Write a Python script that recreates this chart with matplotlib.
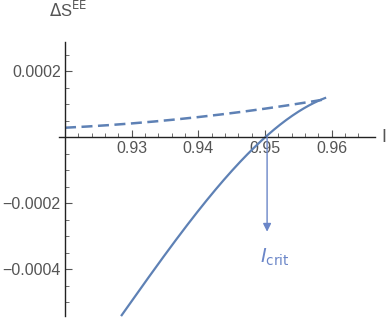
import matplotlib.pyplot as plt
import numpy as np
from matplotlib.ticker import FixedLocator, FuncFormatter

plt.rcParams['font.family'] = ['Liberation Sans', 'DejaVu Sans']

# values
dash_x = [0.92, 0.93, 0.94, 0.95, 0.959]
dash_y = [0.28e-4, 0.41e-4, 0.62e-4, 0.84e-4, 1.15e-4]

solid_x = [0.9285, 0.9342, 0.9402, 0.9452, 0.9503, 0.9542, 0.959]
solid_y = [-5.42e-4, -3.73e-4, -2.21e-4, -1.0e-4, 0.0, 0.75e-4, 1.15e-4]

i_crit = 0.9503
arrow_end = -2.87e-4

xticks = [0.93, 0.94, 0.95, 0.96]
yticks = [-0.0004, -0.0002, 0.0002]

blue = '#5e81b5'
arrow_blue = '#6b86c8'
txt = '#555555'

fig = plt.figure(figsize=(3.88, 3.19), dpi=100)
ax = fig.add_axes([0, 0, 1, 1])
ax.set_xlim(0.91025, 0.96843)
ax.set_ylim(-5.515e-4, 4.152e-4)

# smooth the read points a little with a polynomial through them
xs = np.linspace(dash_x[0], dash_x[-1], 200)
ax.plot(xs, np.polyval(np.polyfit(dash_x, dash_y, 2), xs), color=blue, lw=1.8,
        dashes=(4.4, 2.2))
xs2 = np.linspace(solid_x[0], solid_x[-1], 200)
ax.plot(xs2, np.polyval(np.polyfit(solid_x, solid_y, 3), xs2), color=blue, lw=1.6)

ax.annotate('', xy=(i_crit, arrow_end), xytext=(i_crit, 0),
            arrowprops=dict(arrowstyle='-|>', color=arrow_blue, lw=1.0,
                            mutation_scale=12, shrinkA=0, shrinkB=0))
ax.text(i_crit + 0.0012, arrow_end - 0.45e-4, r'$\mathit{I}_{\mathrm{crit}}$',
        color=arrow_blue, fontsize=14, ha='center', va='top',
        fontfamily='DejaVu Sans')

for s in ['top', 'right']:
    ax.spines[s].set_visible(False)
ax.spines['left'].set_position(('data', 0.92))
ax.spines['bottom'].set_position(('data', 0))
ax.spines['left'].set_bounds(-5.42e-4, 2.88e-4)
ax.spines['bottom'].set_bounds(0.9191, 0.9665)
for s in ['left', 'bottom']:
    ax.spines[s].set_color('#222222')
    ax.spines[s].set_linewidth(1.0)

ax.xaxis.set_major_locator(FixedLocator(xticks))
ax.yaxis.set_major_locator(FixedLocator(yticks))
ax.xaxis.set_minor_locator(FixedLocator(np.arange(0.922, 0.966, 0.002)))
ax.yaxis.set_minor_locator(FixedLocator(np.arange(-0.0005, 0.00026, 0.00005)))
ax.xaxis.set_major_formatter(FuncFormatter(lambda v, p: f'{v:.2f}'))
ax.yaxis.set_major_formatter(FuncFormatter(lambda v, p: f'{v:.4f}'.replace('-', '\u2212')))
ax.tick_params(which='both', direction='in', color='#555555', labelcolor=txt,
               labelsize=11.5)
ax.tick_params(which='major', length=5, width=0.8, pad=3)
ax.tick_params(which='minor', length=3, width=0.6)

ax.text(0.9205, 3.85e-4, r'$\Delta$S$^{\rm EE}$', color=txt, fontsize=12,
        ha='center', va='center')
ax.text(0.9675, 0, 'I', color=txt, fontsize=13, ha='left', va='center')

fig.savefig('out.png', dpi=100)
